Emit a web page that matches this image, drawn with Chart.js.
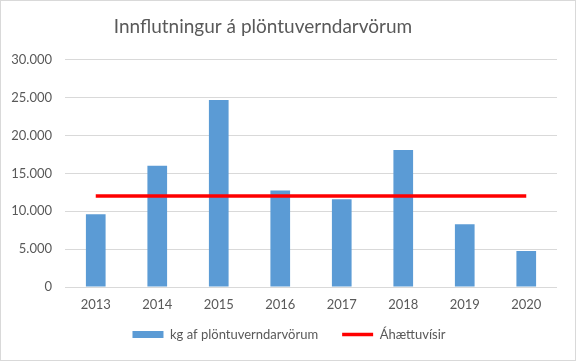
<!DOCTYPE html>
<html>
<head>
<meta charset="utf-8">
<script src="https://cdn.jsdelivr.net/npm/chart.js@4"></script>
<style>
  html, body { margin: 0; padding: 0; background: #fff; }
  #wrap { position: relative; width: 574px; height: 359px; border: 1px solid #d9d9d9; }
</style>
</head>
<body>
<div id="wrap"><canvas id="chart"></canvas></div>
<script>
const years = ['2013', '2014', '2015', '2016', '2017', '2018', '2019', '2020'];
const kgValues = [9600, 16000, 24700, 12750, 11600, 18100, 8300, 4750];
const riskValues = [12000, 12000, 12000, 12000, 12000, 12000, 12000, 12000];
const yTicks = [0, 5000, 10000, 15000, 20000, 25000, 30000];

const textColor = '#595959';
const fontFamily = 'Lato, "Open Sans", sans-serif';

function fmt(v) {
  return String(v).replace(/\B(?=(\d{3})+(?!\d))/g, '.');
}

// nudge title (sits left of centre in the original) and pull legend up
const tweakLayout = {
  id: 'tweakLayout',
  afterLayout(chart) {
    chart.titleBlock.left = 0;
    chart.titleBlock.right = 524;
    chart.legend.top = chart.chartArea.bottom + 17;
    chart.legend.left += 5;
    chart.legend.right += 5;
  }
};

const ctx = document.getElementById('chart').getContext('2d');

const chart = new Chart(ctx, {
  data: {
    labels: years,
    datasets: [
      {
        type: 'line',
        label: 'Áhættuvísir',
        data: riskValues,
        borderColor: '#ff0000',
        backgroundColor: '#ff0000',
        borderWidth: 3.5,
        pointRadius: 0,
        order: 0
      },
      {
        type: 'bar',
        label: 'kg af plöntuverndarvörum',
        data: kgValues,
        backgroundColor: '#5b9bd5',
        categoryPercentage: 1,
        barPercentage: 0.32,
        order: 1
      }
    ]
  },
  plugins: [tweakLayout],
  options: {
    responsive: true,
    maintainAspectRatio: false,
    animation: false,
    layout: { padding: { left: 10, right: 18, top: 2, bottom: 0 } },
    plugins: {
      title: {
        display: true,
        text: 'Innflutningur á plöntuverndarvörum',
        color: textColor,
        font: { family: fontFamily, size: 19, weight: 'normal' },
        padding: { top: 12, bottom: 22 }
      },
      legend: {
        position: 'bottom',
        reverse: true,
        labels: {
          color: textColor,
          font: { family: fontFamily, size: 13 },
          usePointStyle: true,
          pointStyleWidth: 31,
          boxHeight: 7,
          padding: 24,
          generateLabels(chart) {
            const items = Chart.defaults.plugins.legend.labels.generateLabels(chart);
            items.forEach(it => {
              const ds = chart.data.datasets[it.datasetIndex];
              it.pointStyle = ds.type === 'line' ? 'line' : 'rect';
              if (ds.type === 'bar') it.lineWidth = 0;
            });
            return items;
          }
        }
      },
      tooltip: { enabled: false }
    },
    scales: {
      x: {
        grid: { display: false, drawTicks: false },
        border: { display: false },
        afterFit(scale) { scale.height = 26; },
        ticks: { color: textColor, font: { family: fontFamily, size: 13 }, padding: 10 }
      },
      y: {
        min: 0,
        max: 30000,
        afterBuildTicks(scale) {
          scale.ticks = yTicks.map(v => ({ value: v }));
        },
        afterFit(scale) { scale.width = 54; },
        grid: { color: '#d9d9d9', drawTicks: false, lineWidth: 1 },
        border: { display: false },
        ticks: {
          color: textColor,
          font: { family: fontFamily, size: 13 },
          padding: 13,
          callback: v => fmt(v)
        }
      }
    }
  }
});
</script>
</body>
</html>
